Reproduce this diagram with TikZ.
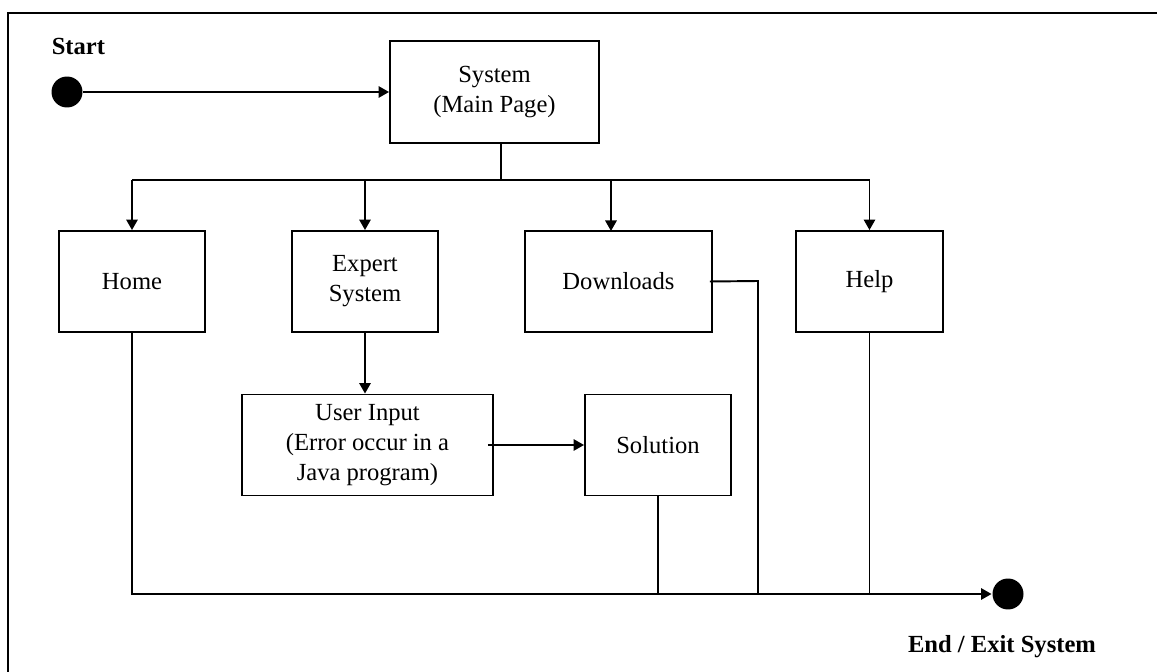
\documentclass[tikz,border=0pt]{standalone}
\usepackage{fontspec}
\setmainfont{Liberation Serif}
\usetikzlibrary{positioning, arrows.meta}
\tikzset{
	>={Triangle[length=6pt,width=6.5pt]},
	every node/.style={font=\fontsize{14}{17}\selectfont},
	every path/.style={line width=1.1pt},
	box/.style={draw, align=center, minimum height=2.02cm, inner sep=2pt},
	dot/.style={circle, fill=black, minimum size=0.62cm, inner sep=0pt},
	frame/.style={draw, line width=1pt}}

\begin{document}
\begin{tikzpicture}[x=0.02cm, y=-0.02cm]
	\useasboundingbox (0,0) rectangle (1157,672);
	\draw[frame] (8,13) rectangle (1190,700);

	\node[anchor=base west] (start) at (45,55) {\textbf{Start}};
	\node[dot] (s0) at (67,92) {};
	\node[box, minimum width=4.18cm, minimum height=2.04cm] (sys) at (494.5,92) {System\\(Main Page)};
	\node[box, minimum width=2.92cm] (home) at (132,281.5) {Home};
	\node[box, minimum width=2.92cm] (expert) at (365,281.5) {Expert\\System};
	\node[box, minimum width=3.74cm] (down) at (618.5,281.5) {Downloads};
	\node[box, minimum width=2.94cm] (help) at (869.5,281.5) {Help};
	\node[box, minimum width=5.02cm] (input) at (367.5,445) {User Input\\(Error occur in a\\Java program)};
	\node[box, minimum width=2.92cm] (sol) at (658,445) {Solution};
	\node[dot] (s1) at (1008,594) {};
	\node[anchor=base] (end) at (1002,652) {\textbf{End / Exit System}};

	\coordinate (bus) at (0,180);
	\coordinate (exit) at (0,594);
	\coordinate (dlturn) at (758,281);
	\coordinate (dltop) at (611,231);

	\draw[->] (s0) -- (sys);
	\draw ([xshift=0.13cm]sys.south) -- ([xshift=0.13cm]sys.south |- bus);
	\draw (home.north |- bus) -- (help.north |- bus);
	\foreach \n in {home,expert,help}
		\draw[->] (\n.north |- bus) -- (\n.north);
	\draw[->] (dltop |- bus) -- (dltop);

	\draw[->] (expert.south) -- (expert.south |- input.north);
	\draw[->] ([xshift=-0.12cm]input.east) -- (sol.west);

	% ways out
	\draw[->] (home.south) -- (home.south |- exit) -- (s1);
	\draw (sol.south) -- (sol.south |- exit);
	\draw ([xshift=-0.06cm]down.east) -- (dlturn) -- (dlturn |- exit);
	\draw (help.south) -- (help.south |- exit);
\end{tikzpicture}
\end{document}
